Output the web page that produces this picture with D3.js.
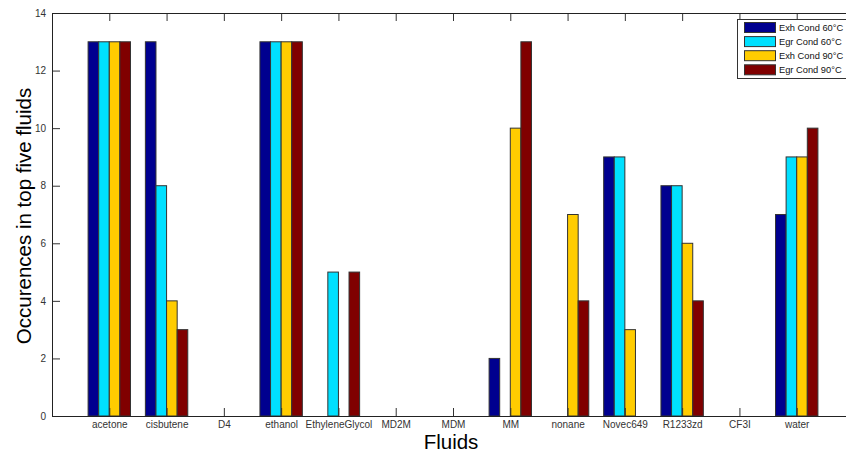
<!DOCTYPE html>
<html>
<head>
<meta charset="utf-8">
<script src="https://cdn.jsdelivr.net/npm/d3@7"></script>
<style>
  body { margin: 0; background: #fff; }
  svg { display: block; font-family: "Liberation Sans", Arial, sans-serif; }
</style>
</head>
<body>
<div id="chart"></div>
<script>
const fluids = ["acetone", "cisbutene", "D4", "ethanol", "EthyleneGlycol", "MD2M", "MDM",
                "MM", "nonane", "Novec649", "R1233zd", "CF3I", "water"];
const seriesNames = ["Exh Cond 60°C", "Egr Cond 60°C", "Exh Cond 90°C", "Egr Cond 90°C"];
const exhCond60 = [13, 13, 0, 13, 0, 0, 0, 2, 0, 9, 8, 0, 7];
const egrCond60 = [13, 8, 0, 13, 5, 0, 0, 0, 0, 9, 8, 0, 9];
const exhCond90 = [13, 4, 0, 13, 0, 0, 0, 10, 7, 3, 6, 0, 9];
const egrCond90 = [13, 3, 0, 13, 5, 0, 0, 13, 4, 0, 4, 0, 10];
const yTicks = [0, 2, 4, 6, 8, 10, 12, 14];
const colors = ["#00008f", "#00e0ff", "#ffcc00", "#800000"];

const svgSize = { width: 846, height: 452 }
const plot = { left: 52, right: 854, top: 13, bottom: 416 }

const allSeries = [exhCond60, egrCond60, exhCond90, egrCond90];

const svg = d3.select("#chart")
              .append("svg")
              .attr("width", svgSize.width)
              .attr("height", svgSize.height);

const x = d3.scaleLinear()
            .domain([0, fluids.length + 1])
            .range([plot.left, plot.right]);

const y = d3.scaleLinear()
            .domain([0, 14])
            .range([plot.bottom, plot.top]);

// grouped bars, matlab style: group takes ~0.74 of a category slot
const groupWidth = 0.74;
const barW = groupWidth / allSeries.length;

allSeries.forEach((vals, s) => {
    const bars = vals.map((v, i) => ({ pos: i + 1, value: v }))
                     .filter(d => d.value > 0);
    svg.append("g")
       .selectAll("rect")
       .data(bars)
       .enter()
       .append("rect")
       .attr("x", d => x(d.pos - groupWidth / 2 + s * barW))
       .attr("y", d => y(d.value))
       .attr("width", x(barW) - x(0))
       .attr("height", d => y(0) - y(d.value))
       .style("fill", colors[s])
       .style("stroke", "#333")
       .style("stroke-width", 1);
});

// axes
svg.append("g")
   .attr("transform", `translate(0, ${plot.bottom})`)
   .call(d3.axisBottom(x)
           .tickValues(d3.range(1, fluids.length + 1))
           .tickFormat(d => fluids[d - 1])
           .tickSize(-8)
           .tickPadding(5));

svg.append("g")
   .attr("transform", `translate(0, ${plot.top})`)
   .call(d3.axisTop(x)
           .tickValues(d3.range(1, fluids.length + 1))
           .tickFormat("")
           .tickSize(-8));

svg.append("g")
   .attr("transform", `translate(${plot.left}, 0)`)
   .call(d3.axisLeft(y)
           .tickValues(yTicks)
           .tickSize(-8)
           .tickPadding(6));

svg.selectAll(".domain").remove();
svg.selectAll(".tick line").attr("stroke", "#333");
svg.selectAll(".tick text")
   .attr("font-size", "10px")
   .attr("fill", "#333")
   .attr("font-family", "Liberation Sans, Arial, sans-serif");

// frame
svg.append("rect")
   .attr("x", plot.left + 0.5)
   .attr("y", plot.top + 0.5)
   .attr("width", plot.right - plot.left)
   .attr("height", plot.bottom - plot.top)
   .attr("fill", "none")
   .attr("stroke", "#222");

// axis titles
svg.append("text")
   .attr("x", 451)
   .attr("y", 449)
   .attr("text-anchor", "middle")
   .attr("font-size", "20.5px")
   .text("Fluids");

svg.append("text")
   .attr("transform", "translate(31, 216) rotate(-90)")
   .attr("text-anchor", "middle")
   .attr("font-size", "20.5px")
   .text("Occurences in top five fluids");

// legend
const lg = svg.append("g")
              .attr("transform", "translate(737, 19)");

lg.append("rect")
  .attr("x", 0.5)
  .attr("y", 0.5)
  .attr("width", 120)
  .attr("height", 59)
  .attr("fill", "#fff")
  .attr("stroke", "#333");

seriesNames.forEach((name, i) => {
    lg.append("rect")
      .attr("x", 7.5)
      .attr("y", 3.5 + i * 14.1)
      .attr("width", 31)
      .attr("height", 10)
      .style("fill", colors[i])
      .style("stroke", "#333");
    lg.append("text")
      .attr("x", 42)
      .attr("y", 12 + i * 14.1)
      .attr("font-size", "9.3px")
      .attr("fill", "#111")
      .text(name);
});
</script>
</body>
</html>
